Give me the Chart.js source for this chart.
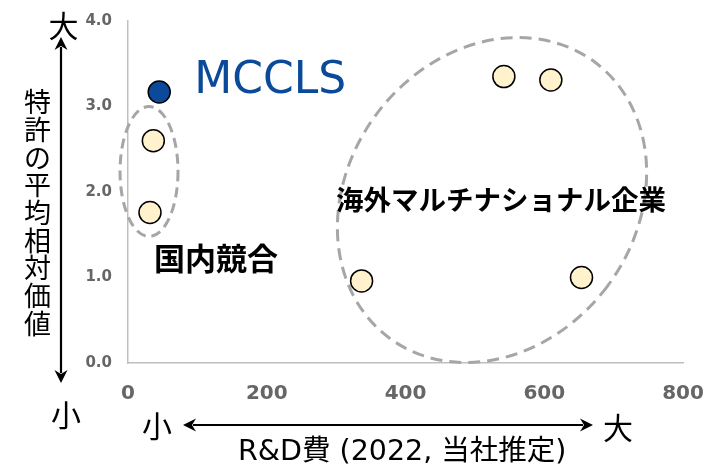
<!DOCTYPE html>
<html><head><meta charset="utf-8">
<script src="https://cdn.jsdelivr.net/npm/chart.js@4.4.1/dist/chart.umd.min.js"></script>
<style>html,body{margin:0;padding:0;background:#fff;}#wrap{width:707px;height:465px;}</style>
</head><body><div id="wrap"><canvas id="c" width="707" height="465"></canvas></div>
<script>
// ---- data ----
const xTicks = [0, 200, 400, 600, 800];
const yTicks = [0, 1, 2, 3, 4];
const ownLabel = 'MCCLS';
const ownX = [45];
const ownY = [3.17];
const compX = [36.5, 31.7, 541.8, 609.5, 336.7, 653.7];
const compY = [2.60, 1.76, 3.35, 3.31, 0.96, 1.00];
const groupNames = ['国内競合', '海外マルチナショナル企業'];
const groupCentersX = [30.3, 524.7];
const groupCentersY = [2.24, 1.906];
const yTitle = '特許の平均相対価値';
const xTitle = 'R&D費 (2022, 当社推定)';
const smallWord = '小';
const bigWord = '大';

const own = ownX.map((x, i) => ({x, y: ownY[i]}));
const comp = compX.map((x, i) => ({x, y: compY[i]}));

const CJK = '"Noto Sans CJK JP"';

function arrow(ctx, x1, y1, x2, y2) {
  ctx.save();
  ctx.strokeStyle = '#000'; ctx.fillStyle = '#000'; ctx.lineWidth = 2.2;
  const ang = Math.atan2(y2 - y1, x2 - x1);
  const L = 13, W = 6.5;
  ctx.beginPath();
  ctx.moveTo(x1 + Math.cos(ang) * (L - 3), y1 + Math.sin(ang) * (L - 3));
  ctx.lineTo(x2 - Math.cos(ang) * (L - 3), y2 - Math.sin(ang) * (L - 3));
  ctx.stroke();
  const head = (tx, ty, a) => {
    ctx.beginPath();
    ctx.moveTo(tx, ty);
    ctx.lineTo(tx - Math.cos(a) * L - Math.sin(a) * W, ty - Math.sin(a) * L + Math.cos(a) * W);
    ctx.lineTo(tx - Math.cos(a) * (L - 4), ty - Math.sin(a) * (L - 4));
    ctx.lineTo(tx - Math.cos(a) * L + Math.sin(a) * W, ty - Math.sin(a) * L - Math.cos(a) * W);
    ctx.closePath(); ctx.fill();
  };
  head(x2, y2, ang);
  head(x1, y1, ang + Math.PI);
  ctx.restore();
}

const deco = {
  id: 'deco',
  beforeDatasetsDraw(chart) {
    const {ctx, scales: {x, y}} = chart;
    ctx.save();
    ctx.strokeStyle = '#a6a6a6';
    ctx.lineWidth = 3;
    ctx.setLineDash([10, 6]);
    ctx.beginPath();
    ctx.ellipse(x.getPixelForValue(groupCentersX[0]), y.getPixelForValue(groupCentersY[0]), 29, 65, 0, 0, Math.PI * 2);
    ctx.stroke();
    ctx.setLineDash([12, 7]);
    ctx.beginPath();
    ctx.ellipse(x.getPixelForValue(groupCentersX[1]), y.getPixelForValue(groupCentersY[1]), 144, 172, 36.8 * Math.PI / 180, 0, Math.PI * 2);
    ctx.stroke();
    ctx.restore();
  },
  afterDraw(chart) {
    const {ctx, scales: {x, y}} = chart;
    ctx.save();
    ctx.fillStyle = '#0b4a9a';
    ctx.font = '44px "DejaVu Sans"';
    ctx.textAlign = 'left'; ctx.textBaseline = 'alphabetic';
    ctx.fillText(ownLabel, x.getPixelForValue(ownX[0]) + 35, 93);
    ctx.fillStyle = '#000';
    ctx.textBaseline = 'middle';
    ctx.font = 'bold 31px ' + CJK;
    ctx.fillText(groupNames[0], 154, 258);
    ctx.font = 'bold 27.5px ' + CJK;
    ctx.fillText(groupNames[1], 336, 200);
    ctx.font = '27px ' + CJK;
    ctx.textAlign = 'center';
    [...yTitle].forEach((ch, i) => ctx.fillText(ch, 37.5, 102 + i * 27.7));
    arrow(ctx, 61, 383, 61, 37);
    arrow(ctx, 183, 425, 593, 425);
    ctx.font = '30px ' + CJK;
    ctx.fillText(bigWord, 63.5, 26);
    ctx.fillText(smallWord, 66, 415);
    ctx.fillText(smallWord, 157, 425.5);
    ctx.fillText(bigWord, 618, 428);
    ctx.textAlign = 'left'; ctx.textBaseline = 'alphabetic';
    ctx.font = '28.5px "DejaVu Sans", ' + CJK;
    ctx.fillText(xTitle, 238, 460);
    ctx.restore();
  }
};

new Chart(document.getElementById('c'), {
  type: 'scatter',
  data: {
    datasets: [
      {label: 'comp', data: comp, backgroundColor: '#fff2cc', borderColor: '#000', borderWidth: 1.5, pointRadius: 11, pointHoverRadius: 11},
      {label: ownLabel, data: own, backgroundColor: '#0b4a9a', borderColor: '#000', borderWidth: 1.5, pointRadius: 11, pointHoverRadius: 11}
    ]
  },
  options: {
    responsive: false,
    animation: false,
    layout: {padding: {top: 21, right: 24, left: 0, bottom: 0}},
    plugins: {legend: {display: false}, tooltip: {enabled: false}},
    scales: {
      x: {
        type: 'linear', min: xTicks[0], max: xTicks[xTicks.length - 1],
        afterBuildTicks: s => { s.ticks = xTicks.map(v => ({value: v})); },
        afterFit: s => { s.height = 102; },
        grid: {display: false, drawTicks: true, tickLength: 19},
        border: {display: true, color: '#bfbfbf', width: 1.5},
        ticks: {color: '#666', padding: 0, font: {family: 'DejaVu Sans', size: 20, weight: 'bold'}, maxRotation: 0}
      },
      y: {
        type: 'linear', min: yTicks[0], max: yTicks[yTicks.length - 1],
        afterBuildTicks: s => { s.ticks = yTicks.map(v => ({value: v})); },
        afterFit: s => { s.width = 128; },
        grid: {display: false, drawTicks: true, tickLength: 16},
        border: {display: true, color: '#bfbfbf', width: 1.5},
        ticks: {color: '#666', padding: 0, font: {family: 'DejaVu Sans', size: 15, weight: 'bold'}, callback: v => Number(v).toFixed(1)}
      }
    }
  },
  plugins: [deco]
});
</script></body></html>
